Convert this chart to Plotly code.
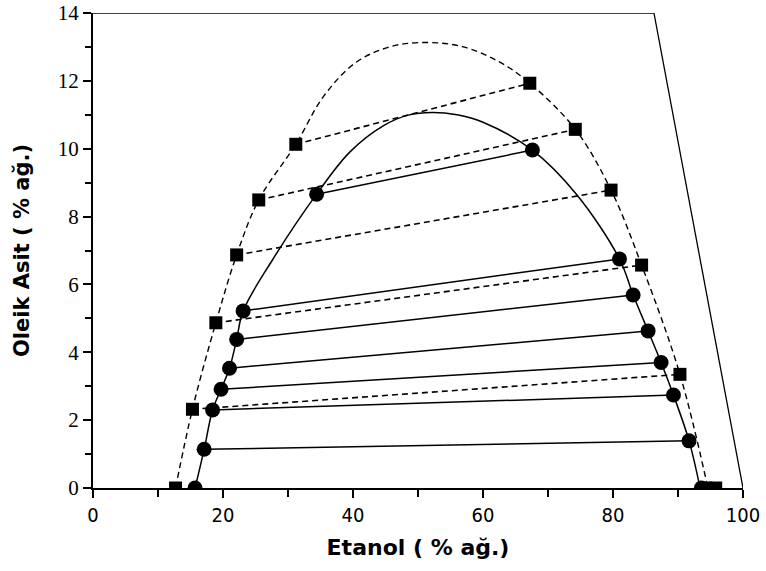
import plotly.graph_objects as go

# ---- data ----
# square points (dashed binodal)
sq_x = [12.7, 15.3, 18.9, 22.1, 25.5, 31.2, 67.2, 74.2, 79.7, 84.4, 90.3, 94.3, 95.8]
sq_y = [0, 2.32, 4.87, 6.87, 8.49, 10.13, 11.93, 10.57, 8.78, 6.57, 3.35, 0, 0]
# circle points (solid binodal)
ci_x = [15.7, 17.1, 18.4, 19.7, 21.0, 22.1, 23.1, 34.4, 67.6, 81.0, 83.1, 85.4, 87.4, 89.3, 91.7, 93.6]
ci_y = [0, 1.14, 2.30, 2.91, 3.53, 4.38, 5.22, 8.66, 9.96, 6.75, 5.69, 4.63, 3.70, 2.74, 1.39, 0]

# binodal curves
outer_x = [12.7, 15.3, 18.9, 22.1, 25.5, 31.2, 35.5, 40.5, 46.0, 51.5, 57.0, 62.6, 67.2,
           74.2, 79.7, 84.4, 90.3, 94.6]
outer_y = [0, 2.32, 4.87, 6.87, 8.49, 10.13, 11.55, 12.55, 13.02, 13.13, 13.0, 12.55, 11.93,
           10.57, 8.78, 6.57, 3.35, 0]
inner_x = [15.7, 17.1, 18.4, 19.7, 21.0, 22.1, 23.1, 27.6, 34.4, 39.5, 44.7, 48.5, 52.2, 56.0, 60.0, 67.6,
           74.4, 81.0, 83.1, 85.4, 87.4, 89.3, 91.7, 93.4]
inner_y = [0, 1.14, 2.30, 2.91, 3.53, 4.38, 5.22, 6.72, 8.66, 9.90, 10.68, 10.99, 11.07, 11.0, 10.78, 9.96,
           8.65, 6.75, 5.69, 4.63, 3.70, 2.74, 1.39, 0]

# tie lines (left end -> right end)
tie_solid_x1 = [17.1, 18.4, 19.7, 21.0, 22.1, 23.1, 34.4]
tie_solid_y1 = [1.14, 2.30, 2.91, 3.53, 4.38, 5.22, 8.66]
tie_solid_x2 = [91.7, 89.3, 87.4, 85.4, 83.1, 81.0, 67.6]
tie_solid_y2 = [1.39, 2.74, 3.70, 4.63, 5.69, 6.75, 9.96]

tie_dash_x1 = [15.3, 18.9, 22.1, 25.5, 31.2]
tie_dash_y1 = [2.32, 4.87, 6.87, 8.49, 10.13]
tie_dash_x2 = [90.3, 84.4, 79.7, 74.2, 67.2]
tie_dash_y2 = [3.35, 6.57, 8.78, 10.57, 11.93]

# frame boundary (top edge and slanted right edge)
bound_x = [0, 86.3, 100]
bound_y = [14, 14, 0]

x_ticks = [0, 20, 40, 60, 80, 100]
y_ticks = [0, 2, 4, 6, 8, 10, 12, 14]


def segs(x1, y1, x2, y2):
    xs, ys = [], []
    for a, b, c, d in zip(x1, y1, x2, y2):
        xs += [a, c, None]
        ys += [b, d, None]
    return xs, ys


fig = go.Figure()

fig.add_trace(go.Scatter(x=bound_x, y=bound_y, mode="lines",
                         line=dict(color="black", width=1.3), cliponaxis=False,
                         hoverinfo="skip", showlegend=False))

sx, sy = segs(tie_solid_x1, tie_solid_y1, tie_solid_x2, tie_solid_y2)
fig.add_trace(go.Scatter(x=sx, y=sy, mode="lines",
                         line=dict(color="black", width=1.5), showlegend=False))
dx, dy = segs(tie_dash_x1, tie_dash_y1, tie_dash_x2, tie_dash_y2)
fig.add_trace(go.Scatter(x=dx, y=dy, mode="lines",
                         line=dict(color="black", width=1.6, dash="6px,4px"), showlegend=False))

fig.add_trace(go.Scatter(x=outer_x, y=outer_y, mode="lines",
                         line=dict(color="black", width=1.4, dash="6px,4px", shape="spline", smoothing=1.0),
                         showlegend=False))
fig.add_trace(go.Scatter(x=inner_x, y=inner_y, mode="lines",
                         line=dict(color="black", width=1.5, shape="spline", smoothing=1.0),
                         showlegend=False))

fig.add_trace(go.Scatter(x=ci_x, y=ci_y, mode="markers",
                         marker=dict(symbol="circle", size=15, color="black"), showlegend=False))
fig.add_trace(go.Scatter(x=sq_x, y=sq_y, mode="markers",
                         marker=dict(symbol="square", size=13, color="black"), showlegend=False))

fig.update_layout(
    width=766, height=571,
    margin=dict(l=93, r=23, t=13, b=83),
    paper_bgcolor="white", plot_bgcolor="white",
    xaxis=dict(
        range=[0, 100], tickvals=x_ticks, ticktext=[str(v) for v in x_ticks], automargin=False,
        showgrid=False, zeroline=False, showline=True, linecolor="black", linewidth=2,
        ticks="outside", ticklen=8, tickwidth=2, tickcolor="black",
        minor=dict(dtick=10, ticks="outside", ticklen=7, tickwidth=2, tickcolor="black"),
        tickfont=dict(family="Liberation Sans Narrow, DejaVu Sans Condensed, Arial Narrow, sans-serif",
                      size=20, color="black"),
        title=dict(text="<b>Etanol ( % ağ.)</b>", standoff=14,
                   font=dict(family="DejaVu Sans, Verdana, sans-serif", size=22, color="black")),
    ),
    yaxis=dict(
        range=[0, 14], tickvals=y_ticks, ticktext=[str(v) for v in y_ticks], automargin=False,
        showgrid=False, zeroline=False, showline=True, linecolor="black", linewidth=2,
        ticks="outside", ticklen=8, tickwidth=2, tickcolor="black",
        minor=dict(dtick=1, ticks="outside", ticklen=6, tickwidth=2, tickcolor="black"),
        tickfont=dict(family="Liberation Serif, Times New Roman, serif", size=21, color="black"),
        title=dict(text="<b>Oleik Asit ( % ağ.)</b>", standoff=22,
                   font=dict(family="DejaVu Sans, Verdana, sans-serif", size=21, color="black")),
    ),
)

fig.write_html("out.html")
